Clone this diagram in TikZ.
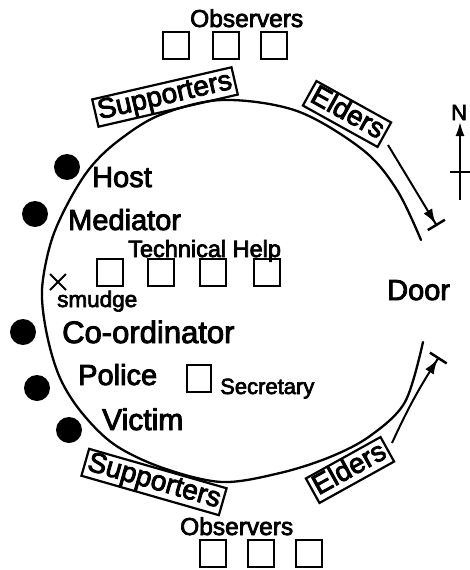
\documentclass[tikz,border=0pt]{standalone}
\usepackage{fontspec}
\setmainfont{Liberation Sans}
\newfontfamily\heavy{Liberation Sans}[FakeBold=3]
\usetikzlibrary{arrows.meta}
\begin{document}
\begin{tikzpicture}[x=1pt,y=-1pt,
  lbl/.style={anchor=base west, inner sep=0pt, font=\heavy\fontsize{29}{30}\selectfont},
  small/.style={anchor=base west, inner sep=0pt, font=\heavy\fontsize{22.5}{23}\selectfont},
  seat/.style={draw, line width=2pt, minimum width=26pt, minimum height=27pt, inner sep=0pt},
  grp/.style={draw, line width=2.2pt, inner xsep=3pt, inner ysep=2pt, text height=19pt, text depth=5pt, font=\heavy\fontsize{28}{29}\selectfont},
  person/.style={circle, fill=black, minimum size=26pt, inner sep=0pt},
  doorarrow/.style={line width=2pt, -{Latex[length=15pt,width=10pt]Bar[width=20pt,line width=2.5pt]}}
]
\useasboundingbox (0,0) rectangle (469,570);
\fill[white] (0,0) rectangle (469,570);

% ring (open towards the door)
\draw[line width=2.3pt, line cap=round] plot[smooth, tension=0.55] coordinates {
  (421,240) (397,190) (363,150) (297,111) (222,100) (160,115) (118,141) (90,168)
  (68,203) (51,242) (42,290) (47,335) (60,378) (82,413) (115,445) (163,468)
  (222,482) (280,473) (330,457) (370,436) (405,402) (423,342)};

% observers top
\node[anchor=base west, inner sep=0pt, font=\heavy\fontsize{24.5}{25}\selectfont] (obsT) at (190,27) {Observers};
\node[seat] (oT1) at (176,45) {};
\node[seat] (oT2) at (226,45) {};
\node[seat] (oT3) at (274,45) {};

% group boxes
\node[grp, rotate=13] (supT) at (165,97) {Supporters};
\node[grp, rotate=-29] (eldT) at (347,114) {Elders};
\node[grp, rotate=-16] (supB) at (154,482) {Supporters};
\node[grp, rotate=29] (eldB) at (350,470) {Elders};

% people
\node[person] (dHost) at (67,167) {};
\node[person] (dMed) at (35,214) {};
\node[person] (dCo) at (23,332) {};
\node[person] (dPol) at (37,388) {};
\node[person] (dVic) at (69,430) {};

\node[lbl] (host) at (92,187) {Host};
\node[lbl] (med) at (68,230) {Mediator};
\node[lbl, font=\heavy\fontsize{31}{32}\selectfont] (co) at (62,343) {Co-ordinator};
\node[lbl] (pol) at (78,385) {Police};
\node[lbl, font=\heavy\fontsize{30}{31}\selectfont] (vic) at (102,430) {Victim};
\node[lbl] (door) at (387,300) {Door};

% technical help
\node[small, font=\heavy\fontsize{23.5}{24}\selectfont] (tech) at (128,257) {Technical Help};
\node[seat] (t1) at (110,272) {};
\node[seat] (t2) at (161,272) {};
\node[seat] (t3) at (213,272) {};
\node[seat] (t4) at (267,272) {};

% smudge
\coordinate (xm) at (58,282);
\draw[line width=2pt] ([shift={(-8,-8)}]xm) -- ([shift={(8,8)}]xm);
\draw[line width=2pt] ([shift={(-8,8)}]xm) -- ([shift={(8,-8)}]xm);
\node[small] (smudge) at (57,307) {smudge};

% secretary
\node[seat, minimum width=24pt, minimum height=27pt] (sec) at (199,378) {};
\node[small, font=\heavy\fontsize{22}{23}\selectfont] (secl) at (220,394) {Secretary};

% observers bottom
\node[anchor=base west, inner sep=0pt, font=\heavy\fontsize{24.5}{25}\selectfont] (obsB) at (180,535) {Observers};
\node[seat] (oB1) at (213,553) {};
\node[seat] (oB2) at (261,553) {};
\node[seat] (oB3) at (309,553) {};

% door arrows
\coordinate (a1s) at (388,145);
\coordinate (a1e) at (437,226);
\draw[doorarrow] (a1s) -- (a1e);
\coordinate (a2s) at (392,443);
\coordinate (a2e) at (439,357);
\draw[doorarrow] (a2s) to[bend left=4] (a2e);

% compass
\coordinate (cS) at (460,200);
\coordinate (cN) at (460,122);
\draw[line width=2pt, -{Latex[length=14pt,width=9pt]}] (cS) -- (cN);
\coordinate (cL) at (450,172);
\coordinate (cR) at (472,172);
\draw[line width=2pt] (cL) -- (cR);
\node[anchor=base west, inner sep=0pt, font=\heavy\fontsize{22}{23}\selectfont] (north) at (451,120) {N};
\end{tikzpicture}
\end{document}
